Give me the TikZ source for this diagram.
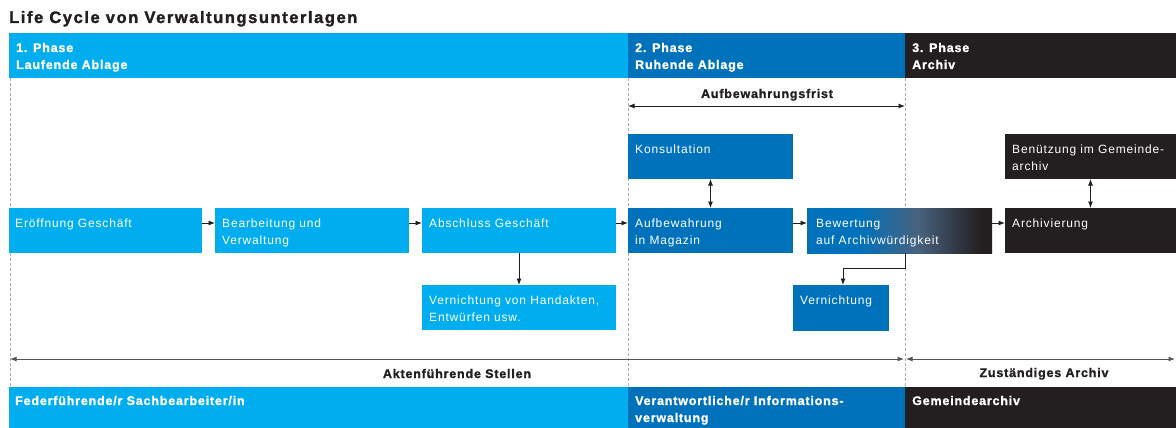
\documentclass[tikz,border=0pt]{standalone}
\usepackage{fontspec}
\setmainfont{Liberation Sans}
\newfontfamily\bxf[LetterSpace=7]{Liberation Sans}
\newfontfamily\hdf[LetterSpace=6.5,FakeBold=1.2]{Liberation Sans}
\newfontfamily\ttf[LetterSpace=9.5,FakeBold=1.8]{Liberation Sans}
\usetikzlibrary{arrows.meta}
\definecolor{cA}{RGB}{0,173,238}
\definecolor{cB}{RGB}{0,114,188}
\definecolor{cC}{RGB}{35,31,32}
\definecolor{cMid}{RGB}{72,98,126}
\definecolor{cLine}{RGB}{85,85,85}
\pgfdeclarehorizontalshading{bewshade}{100bp}{color(0bp)=(cB); color(39bp)=(cB); color(55bp)=(cMid); color(72bp)=(cC); color(100bp)=(cC)}
\newcommand\ml[1]{\begin{tabular}[t]{@{}l@{}}#1\end{tabular}}
\newcommand\lcbox[8]{% name, style, x, y, w, h, text x-offset, text
  \node[#2, minimum width=#5pt, minimum height=#6pt] (#1) at (#3,#4) {};
  \node[boxtxt] (#1-t) at ([xshift=#7pt,yshift=-19pt]#1.north west) {\ml{#8}};
}
\begin{document}
\begin{tikzpicture}[x=1pt,y=-1pt,
  rect/.style={anchor=north west, inner sep=0pt, outer sep=0pt, draw=none},
  boxA/.style={rect, fill=cA},
  boxB/.style={rect, fill=cB},
  boxC/.style={rect, fill=cC},
  boxG/.style={rect, shading=bewshade},
  boxtxt/.style={anchor=base west, inner sep=0pt, text=white, font=\bxf\fontsize{12}{17.5}\selectfont},
  headtxt/.style={anchor=base west, inner sep=0pt, text=white, font=\hdf\bfseries\fontsize{12.5}{17}\selectfont},
  dimtxt/.style={anchor=base, inner sep=0pt, text=cC, font=\hdf\bfseries\fontsize{12.5}{15}\selectfont},
  dline/.style={draw=gray!65, line width=0.5pt, dash pattern=on 3pt off 2pt},
  arr/.style={-{Latex[length=6.5pt,width=5pt]}, line width=0.9pt, draw=cC},
  darr/.style={{Latex[length=6.5pt,width=5pt]}-{Latex[length=6.5pt,width=5pt]}, line width=0.9pt, draw=cC},
  garr/.style={{Latex[length=6.5pt,width=5pt]}-{Latex[length=6.5pt,width=5pt]}, line width=1pt, draw=cLine},
]
\useasboundingbox (0,0) rectangle (1176,428);
\fill[white] (0,0) rectangle (1176,428);

% title
\node[anchor=base west, inner sep=0pt, text=cC, font=\ttf\bfseries\fontsize{16.5}{20}\selectfont] (title) at (9,23) {Life Cycle von Verwaltungsunterlagen};

% dashed phase borders
\draw[dline] (10,78) -- (10,386);
\draw[dline] (628,78) -- (628,386);
\draw[dline] (905,78) -- (905,386);

% top phase bars
\node[boxA, minimum width=619pt, minimum height=45pt] (ph1) at (9,33) {};
\node[boxB, minimum width=277pt, minimum height=45pt] (ph2) at (628,33) {};
\node[boxC, minimum width=271pt, minimum height=45pt] (ph3) at (905,33) {};
\node[headtxt] (ph1-t) at (16,52) {\ml{1. Phase\\Laufende Ablage}};
\node[headtxt] (ph2-t) at (635,52) {\ml{2. Phase\\Ruhende Ablage}};
\node[headtxt] (ph3-t) at (912,52) {\ml{3. Phase\\Archiv}};

% Aufbewahrungsfrist
\coordinate (frL) at (628,106);
\coordinate (frR) at (905,106);
\node[dimtxt] (frist) at (767,98) {Aufbewahrungsfrist};
\draw[darr] (frL) -- (frR);

% boxes
\lcbox{eroe}{boxA}{9}{208}{193}{45}{6}{Eröffnung Geschäft}
\lcbox{bear}{boxA}{215}{208}{194}{45}{7}{Bearbeitung und\\Verwaltung}
\lcbox{absc}{boxA}{422}{208}{194}{45}{7}{Abschluss Geschäft}
\lcbox{vhand}{boxA}{422}{285}{194}{45}{7}{Vernichtung von Handakten,\\Entwürfen usw.}
\lcbox{kons}{boxB}{628}{134}{165}{45}{7}{Konsultation}
\lcbox{aufb}{boxB}{628}{208}{165}{45}{7}{Aufbewahrung\\in Magazin}
\lcbox{bew}{boxG}{807}{208}{185}{45}{9}{Bewertung\\auf Archivwürdigkeit}
\lcbox{vern}{boxB}{793}{285}{96}{46}{7}{Vernichtung}
\lcbox{benu}{boxC}{1005}{134}{171}{45}{7}{Benützung im Gemeinde-\\archiv}
\lcbox{arch}{boxC}{1005}{208}{171}{45}{7}{Archivierung}

% connectors
\draw[arr] ([yshift=-15pt]eroe.north east) -- ([yshift=-15pt]bear.north west);
\draw[arr] ([yshift=-15pt]bear.north east) -- ([yshift=-15pt]absc.north west);
\draw[arr] ([yshift=-15pt]absc.north east) -- ([yshift=-15pt]aufb.north west);
\draw[arr] ([yshift=-15pt]aufb.north east) -- ([yshift=-15pt]bew.north west);
\draw[arr] ([yshift=-15pt]bew.north east) -- ([yshift=-15pt]arch.north west);
\draw[arr] (absc.south) -- (vhand.north);
\draw[darr] (kons.south) -- (aufb.north);
\draw[darr] (benu.south) -- (arch.north);
\draw[arr] ([xshift=6pt]bew.south) -- ++(0,15) -| ([xshift=2pt]vern.north);

% responsibility dimensions
\coordinate (dl) at (10,359);
\coordinate (dm1) at (904,359);
\coordinate (dm2) at (906,359);
\coordinate (dr) at (1175,359);
\draw[garr] (dl) -- (dm1);
\draw[garr] (dm2) -- (dr);
\node[dimtxt] (akten) at (457,378) {Aktenführende Stellen};
\node[dimtxt] (zust) at (1044,377) {Zuständiges Archiv};

% bottom bars
\node[boxA, minimum width=619pt, minimum height=42pt] (bt1) at (9,386.5) {};
\node[boxB, minimum width=277pt, minimum height=42pt] (bt2) at (628,386.5) {};
\node[boxC, minimum width=271pt, minimum height=42pt] (bt3) at (905,386.5) {};
\node[headtxt] (bt1-t) at (15,405) {\ml{Federführende/r Sachbearbeiter/in}};
\node[headtxt] (bt2-t) at (635,405) {\ml{Verantwortliche/r Informations-\\verwaltung}};
\node[headtxt] (bt3-t) at (912,405) {\ml{Gemeindearchiv}};
\end{tikzpicture}
\end{document}
